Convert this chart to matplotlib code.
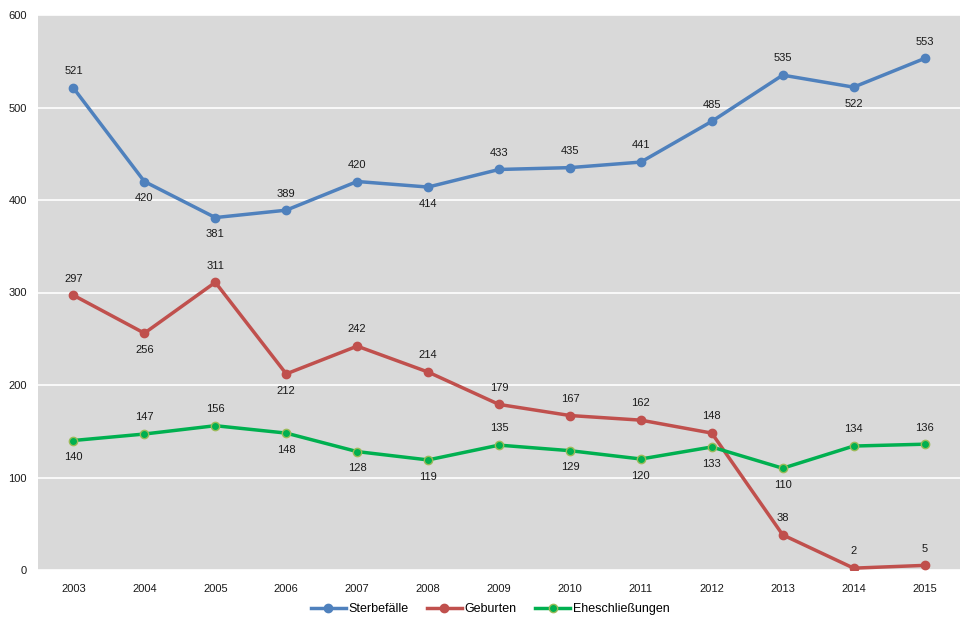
import matplotlib
matplotlib.use("Agg")
import matplotlib.pyplot as plt

years = ["2003", "2004", "2005", "2006", "2007", "2008", "2009", "2010", "2011", "2012", "2013", "2014", "2015"]
sterbefaelle = [521, 420, 381, 389, 420, 414, 433, 435, 441, 485, 535, 522, 553]
geburten = [297, 256, 311, 212, 242, 214, 179, 167, 162, 148, 38, 2, 5]
ehe = [140, 147, 156, 148, 128, 119, 135, 129, 120, 133, 110, 134, 136]

pos_sterbe = ["a", "b", "b", "a", "a", "b", "a", "a", "a", "a", "a", "b", "a"]
pos_geb = ["a", "b", "a", "b", "a", "a", "a", "a", "a", "a", "a", "a", "a"]
pos_ehe = ["b", "a", "a", "b", "b", "b", "a", "b", "b", "b", "b", "a", "a"]

plt.rcParams['font.family'] = ['Liberation Sans', 'DejaVu Sans']

fig = plt.figure(figsize=(9.75, 6.3), dpi=100)
ax = fig.add_axes([38/975, 1 - 570/630, 922/975, 555/630])
ax.set_facecolor("#d9d9d9")
x = list(range(len(years)))

series = [
    ("Sterbefälle", sterbefaelle, "#4f81bd", "#4f81bd", pos_sterbe),
    ("Geburten", geburten, "#c0504d", "#c0504d", pos_geb),
    ("Eheschließungen", ehe, "#00b050", "#9bbb59", pos_ehe),
]
for name, vals, col, edge, pos in series:
    ax.plot(x, vals, color=col, lw=2.5, marker="o", ms=6, mfc=col, mec=edge, mew=1.0, label=name, zorder=3)
    for xi, v, p in zip(x, vals, pos):
        off = 12 if p == "a" else -12
        ax.annotate(str(v), (xi, v), xytext=(0, off), textcoords="offset points",
                    ha="center", va="center", fontsize=8, color="#1a1a1a", zorder=4)

ax.set_xlim(-0.5, len(years) - 0.5)
ax.set_ylim(0, 600)
ax.set_yticks(range(0, 601, 100))
ax.set_xticks(x)
ax.set_xticklabels(years)
ax.yaxis.grid(True, color="white", lw=1.2)
ax.set_axisbelow(True)
for s in ax.spines.values():
    s.set_visible(False)
ax.tick_params(axis="both", length=0, labelsize=8, colors="#1a1a1a")
ax.tick_params(axis="x", pad=10)
ax.tick_params(axis="y", pad=8)

fig.legend(loc="center", bbox_to_anchor=(490/975, 1 - 609/630), ncol=3, frameon=False,
           fontsize=9, handlelength=2.8, columnspacing=1.5, handletextpad=0.2)

fig.savefig("out.png", dpi=100)
